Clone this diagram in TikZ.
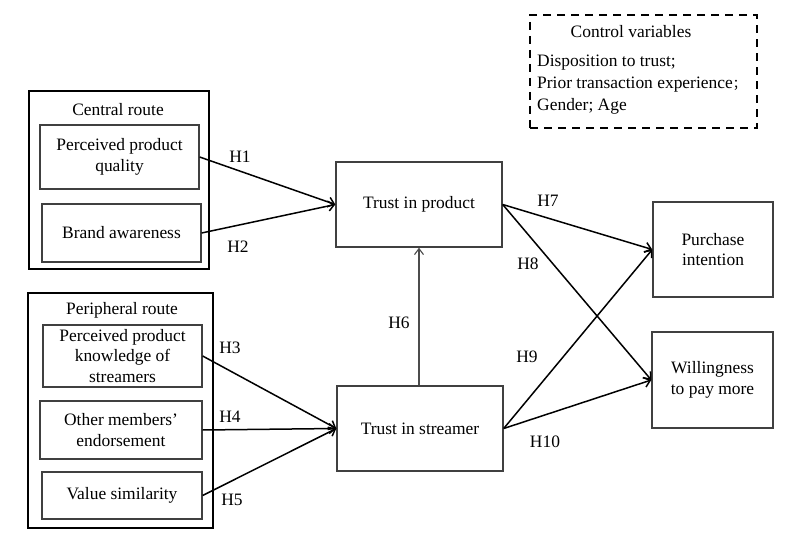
\documentclass[tikz,border=0pt]{standalone}
\usepackage{fontspec}
\setmainfont{Liberation Serif}
\newfontfamily\cjkfont{Noto Sans CJK SC}
\usetikzlibrary{arrows.meta}
\begin{document}
\begin{tikzpicture}[x=1bp,y=-1bp,
  every node/.style={font=\fontsize{17.5}{21}\selectfont, inner sep=0pt, align=center},
  groupbox/.style={draw=black, line width=2.4bp, rectangle},
  itembox/.style={draw=black!75, line width=1.3bp, rectangle},
  mainbox/.style={draw=black!75, line width=1.4bp, rectangle},
  hyp/.style={draw=black, line width=1.5bp, -{Straight Barb[length=6bp,width=10bp,line width=1.5bp]}},
  hypthin/.style={draw=black!70, line width=1.1bp, -{Straight Barb[length=6bp,width=9bp,line width=1.1bp]}},
  lab/.style={anchor=center}
]
\useasboundingbox (0,0) rectangle (803,534);

% groups
\node[groupbox, minimum width=180bp, minimum height=178bp] (cr) at (119,180) {};
\node[lab] (crt) at (118,110) {Central route};
\node[groupbox, minimum width=185bp, minimum height=235bp] (pr) at (120.5,410.5) {};
\node[lab] (prt) at (122,310) {Peripheral route};

% items
\node[itembox, minimum width=159bp, minimum height=64bp] (ppq) at (119.5,157) {Perceived product\\quality};
\node[itembox, minimum width=159bp, minimum height=58bp] (ba) at (121.5,233) {Brand awareness};
\node[itembox, minimum width=159bp, minimum height=62bp] (ppk) at (122.5,356) {Perceived product\\knowledge of\\streamers};
\node[itembox, minimum width=162bp, minimum height=58bp] (ome) at (121,430) {Other members'\\endorsement};
\node[itembox, minimum width=160bp, minimum height=47bp] (vs) at (122,495.5) {Value similarity};

% main constructs
\node[mainbox, minimum width=166bp, minimum height=85bp] (tp) at (419,204.5) {Trust in product};
\node[mainbox, minimum width=166bp, minimum height=85bp] (ts) at (420,428.5) {Trust in streamer};
\node[mainbox, minimum width=120bp, minimum height=95bp] (pi) at (713,249.5) {Purchase\\intention};
\node[mainbox, minimum width=121bp, minimum height=96bp] (wp) at (712.5,380) {Willingness\\to pay more};

% control variables
\node[draw=black, line width=2.4bp, dash pattern=on 8bp off 6bp, minimum width=227bp, minimum height=113bp] (cv) at (643.5,71.5) {};
\node[lab] (cvt) at (631,32) {Control variables};
\node[anchor=west] (cv1) at (537,63) {Disposition to trust;};
\node[anchor=west] (cv2) at (537,85) {Prior transaction experience{\cjkfont\fontsize{13}{13}\selectfont ；}};
\node[anchor=west] (cv3) at (537,106) {Gender; Age};

% hypotheses
\draw[hyp] (ppq.east) -- (tp.west);
\draw[hyp] (ba.east) -- (tp.west);
\draw[hyp] (ppk.east) -- (ts.west);
\draw[hyp] (ome.east) -- (ts.west);
\draw[hyp] (vs.east) -- (ts.west);
\draw[hypthin] (ts.north -| tp.south) -- (tp.south);
\draw[hyp] (tp.east) -- (pi.west);
\draw[hyp] (tp.east) -- (wp.west);
\draw[hyp] (ts.east) -- (pi.west);
\draw[hyp] (ts.east) -- (wp.west);

% labels
\node[lab] (h1) at (240,157) {H1};
\node[lab] (h2) at (238,247) {H2};
\node[lab] (h3) at (230,348) {H3};
\node[lab] (h4) at (230,417) {H4};
\node[lab] (h5) at (232,500) {H5};
\node[lab] (h6) at (399,323) {H6};
\node[lab] (h7) at (548,201) {H7};
\node[lab] (h8) at (528,264) {H8};
\node[lab] (h9) at (527,357) {H9};
\node[lab] (h10) at (545,442) {H10};
\end{tikzpicture}
\end{document}
